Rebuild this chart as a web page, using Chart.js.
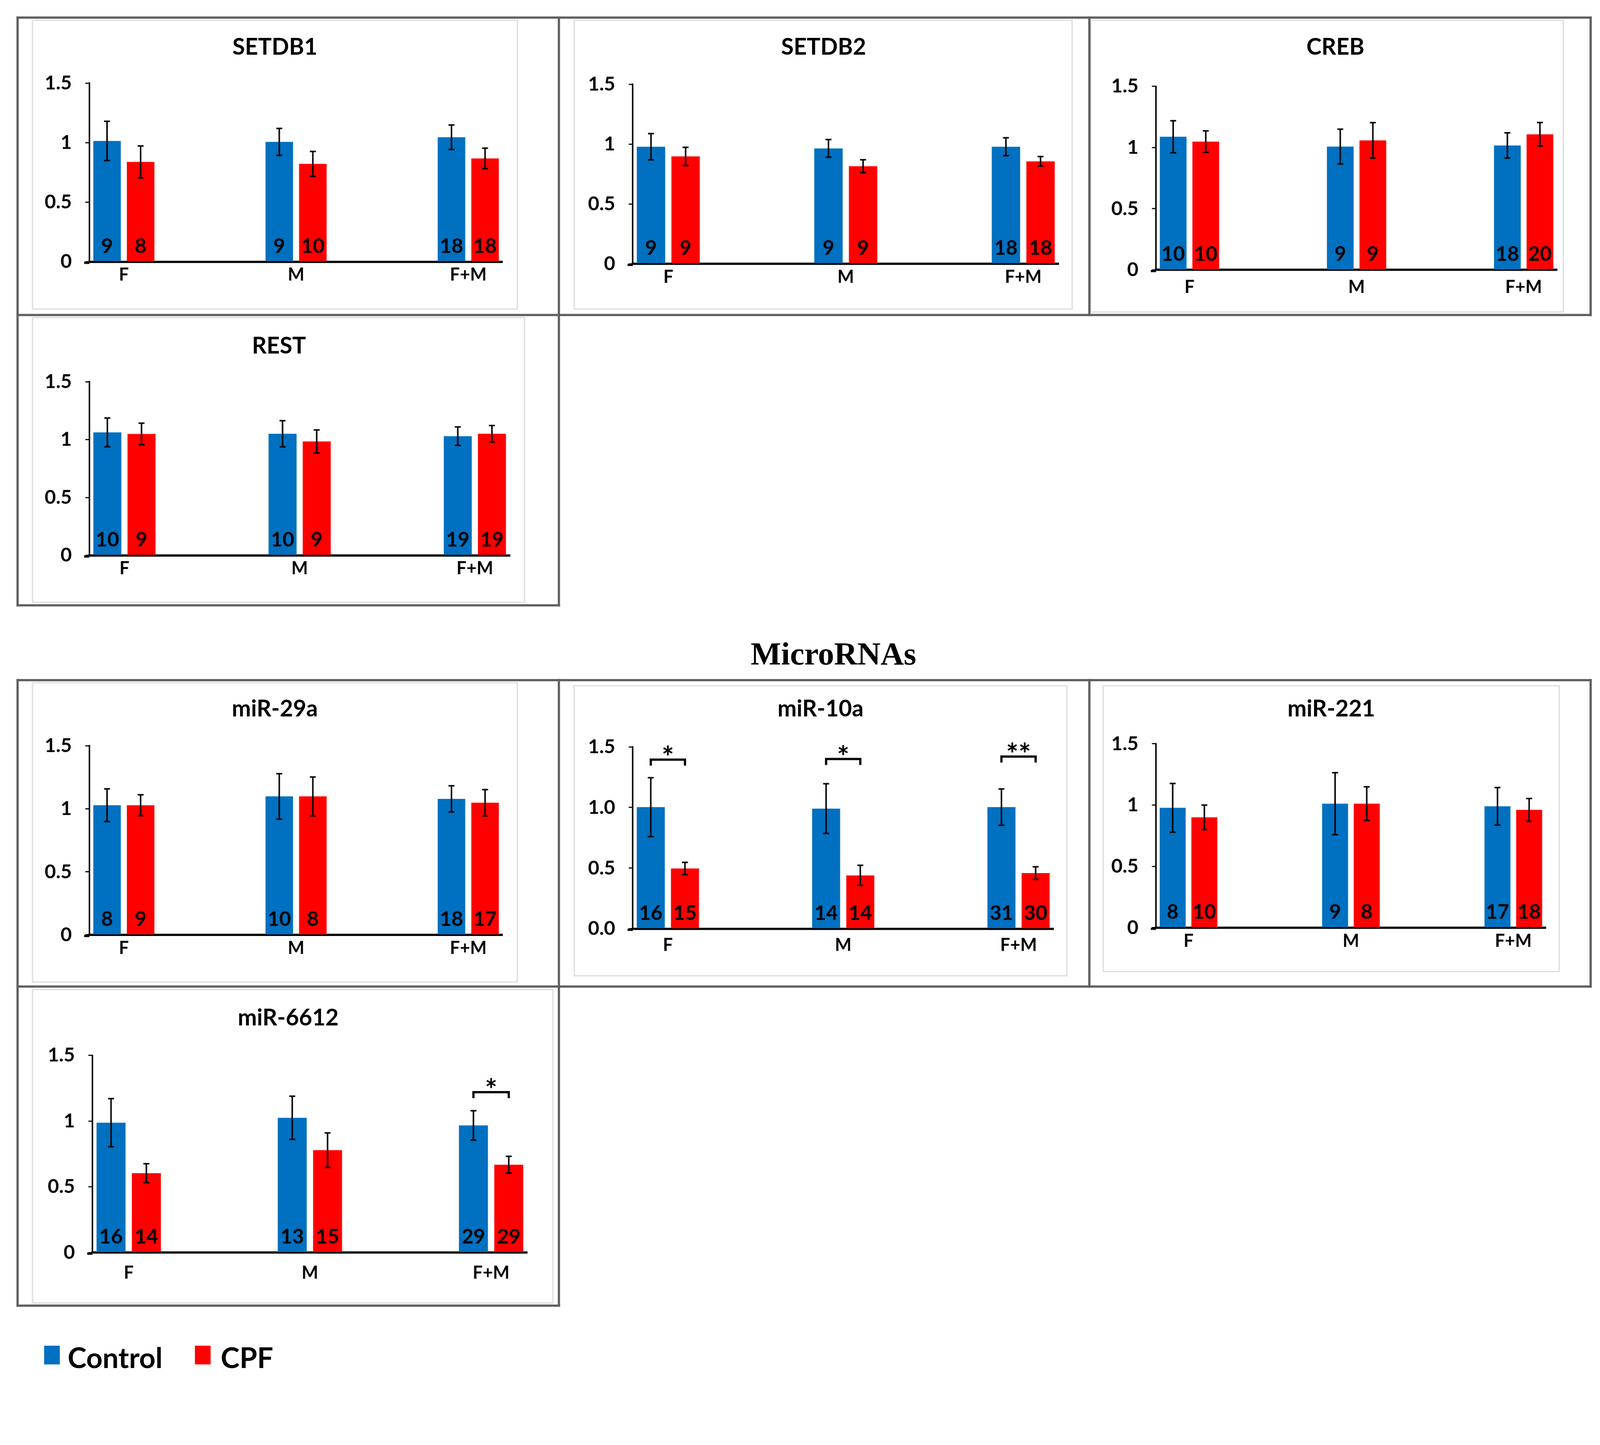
<!DOCTYPE html>
<html>
<head>
<meta charset="utf-8">
<script src="https://cdn.jsdelivr.net/npm/chart.js@4.4.1/dist/chart.umd.min.js"></script>
<style>
  html, body { margin: 0; padding: 0; background: #fff; overflow: hidden; }
  #page { position: absolute; left: 0; top: 0; width: 4277px; height: 3699px; overflow: hidden; transform-origin: 0 0; font-family: Lato, "Open Sans", sans-serif; }
  .rule { position: absolute; background: #606060; }
  .inner { position: absolute; box-sizing: border-box; border: 4px solid #e2e2e2; }
  .cell { position: absolute; }
  .ptitle { position: absolute; transform: translate(-50%, -50%); font-weight: 700; font-size: 61px; line-height: 1; white-space: nowrap; color: #000; }
  #sectionTitle { position: absolute; left: 2228px; top: 1790px; transform: translate(-50%, -100%); font-family: "Liberation Serif", serif; font-weight: 700; font-size: 86px; line-height: 1; color: #000; }
  .lg-box { position: absolute; width: 42px; height: 50px; }
  .lg-text { position: absolute; font-weight: 700; font-size: 76px; line-height: 1; color: #000; }
</style>
</head>
<body>
<div id="page">
  <div id="sectionTitle">MicroRNAs</div>
  <div class="lg-box" style="left:118px;top:3597px;background:#0070C0"></div>
  <div class="lg-text" style="left:181px;top:3590px">Control</div>
  <div class="lg-box" style="left:521px;top:3597px;background:#FF0000"></div>
  <div class="lg-text" style="left:590px;top:3590px">CPF</div>
</div>
<script>
(function(){
  // ---- data ----
  const categories = ["F", "M", "F+M"];
  const seriesNames = ["Control", "CPF"];
  const panelTitles = ["SETDB1", "SETDB2", "CREB", "REST", "miR-29a", "miR-10a", "miR-221", "miR-6612"];
  const controlMeans = [
    [1.015, 1.007, 1.046], [0.978, 0.964, 0.978], [1.088, 1.008, 1.017], [1.063, 1.051, 1.030],
    [1.029, 1.099, 1.079], [1.003, 0.991, 1.003], [0.978, 1.012, 0.990], [0.988, 1.025, 0.967]
  ];
  const cpfMeans = [
    [0.839, 0.822, 0.868], [0.897, 0.815, 0.856], [1.048, 1.058, 1.108], [1.049, 0.984, 1.051],
    [1.029, 1.099, 1.049], [0.497, 0.440, 0.459], [0.900, 1.012, 0.961], [0.604, 0.779, 0.668]
  ];
  const controlErr = [
    [0.165, 0.113, 0.103], [0.110, 0.074, 0.075], [0.131, 0.142, 0.103], [0.124, 0.113, 0.080],
    [0.130, 0.180, 0.104], [0.243, 0.205, 0.150], [0.199, 0.253, 0.153], [0.183, 0.164, 0.112]
  ];
  const cpfErr = [
    [0.134, 0.105, 0.086], [0.076, 0.054, 0.040], [0.088, 0.145, 0.096], [0.093, 0.100, 0.071],
    [0.083, 0.154, 0.104], [0.050, 0.083, 0.052], [0.100, 0.137, 0.093], [0.072, 0.131, 0.064]
  ];
  const controlN = [[9, 9, 18], [9, 9, 18], [10, 9, 18], [10, 10, 19], [8, 10, 18], [16, 14, 31], [8, 9, 17], [16, 13, 29]];
  const cpfN = [[8, 10, 18], [9, 9, 18], [10, 9, 20], [9, 9, 19], [9, 8, 17], [15, 14, 30], [10, 8, 18], [14, 15, 29]];
  const yTickValues = [0, 0.5, 1, 1.5];
  const yTickDecimals = [0, 0, 0, 0, 0, 1, 0, 0];
  // significance: [category index, bracket height, stars]
  const sigMarks = [[], [], [], [], [], [[0, 1.395, "*"], [1, 1.40, "*"], [2, 1.42, "**"]], [], [[2, 1.22, "*"]]];

  // ---- layout (measured on a 1560px wide copy, scaled up) ----
  const S = 4277 / 1560;
  const panelLayout = [
    { cell: [17, 17, 545, 307],   inner: [31, 19, 505, 302],    title: [268, 45],  axisX: 87,   yTop: 81,   yZero: 255,  xEnd: 490,  labelY: 268 },
    { cell: [545, 17, 1062, 307], inner: [559, 19, 1046, 302],  title: [803, 45],  axisX: 617,  yTop: 82,   yZero: 257,  xEnd: 1032, labelY: 270 },
    { cell: [1062, 17, 1551, 307],inner: [1063, 19, 1525, 305], title: [1302, 45], axisX: 1127, yTop: 84,   yZero: 263,  xEnd: 1518, labelY: 280 },
    { cell: [17, 307, 545, 590],  inner: [31, 309, 512, 588],   title: [272, 336], axisX: 87,   yTop: 372,  yZero: 541,  xEnd: 497,  labelY: 554 },
    { cell: [17, 663, 545, 962],  inner: [31, 665, 505, 958],   title: [268, 690], axisX: 87,   yTop: 727,  yZero: 911,  xEnd: 490,  labelY: 924 },
    { cell: [545, 663, 1062, 962],inner: [559, 668, 1041, 952], title: [800, 690], axisX: 617,  yTop: 728,  yZero: 905,  xEnd: 1027, labelY: 921 },
    { cell: [1062, 663, 1551, 962],inner:[1075, 668, 1521, 948],title: [1298, 690],axisX: 1127, yTop: 725,  yZero: 904,  xEnd: 1507, labelY: 917 },
    { cell: [17, 962, 545, 1273], inner: [31, 964, 540, 1271],  title: [281, 991], axisX: 90,   yTop: 1029, yZero: 1221, xEnd: 514,  labelY: 1241 }
  ];
  const hRules = [[17, 1551, 17], [17, 1551, 307], [17, 545, 590], [17, 1551, 663], [17, 1551, 962], [17, 545, 1273]];
  const vRules = [[17, 17, 590], [545, 17, 590], [1062, 17, 307], [1551, 17, 307], [17, 663, 1273], [545, 663, 1273], [1062, 663, 962], [1551, 663, 962]];

  const page = document.getElementById("page");
  // fit the 4277x3699 page into whatever viewport we get
  const fit = Math.min(window.innerWidth / 4277, window.innerHeight / 3699) || 1;
  page.style.transform = "scale(" + fit + ")";

  const RULE = 6;
  const FONT = "Lato, 'Open Sans', sans-serif";

  function addDiv(cls, style, text){
    const d = document.createElement("div");
    d.className = cls;
    Object.assign(d.style, style);
    if (text) d.textContent = text;
    page.appendChild(d);
    return d;
  }

  // inner (light) chart frames first, then the dark grid rules
  panelLayout.forEach(L => {
    addDiv("inner", {
      left: L.inner[0] * S + "px", top: L.inner[1] * S + "px",
      width: (L.inner[2] - L.inner[0]) * S + "px", height: (L.inner[3] - L.inner[1]) * S + "px"
    });
  });
  hRules.forEach(r => addDiv("rule", {
    left: r[0] * S - RULE / 2 + "px", top: r[2] * S - RULE / 2 + "px",
    width: (r[1] - r[0]) * S + RULE + "px", height: RULE + "px"
  }));
  vRules.forEach(r => addDiv("rule", {
    left: r[0] * S - RULE / 2 + "px", top: r[1] * S - RULE / 2 + "px",
    width: RULE + "px", height: (r[2] - r[1]) * S + RULE + "px"
  }));

  const extrasPlugin = {
    id: "extras",
    afterDatasetsDraw(chart, args, opts){
      const i = opts.panel;
      const ctx = chart.ctx;
      const yS = chart.scales.y;
      const area = chart.chartArea;
      const means = [controlMeans[i], cpfMeans[i]];
      const errs = [controlErr[i], cpfErr[i]];
      const ns = [controlN[i], cpfN[i]];
      const centers = [[], []];
      ctx.save();
      // category axis runs a little past the value axis on the left
      ctx.strokeStyle = "#000";
      ctx.lineWidth = 6;
      ctx.beginPath();
      ctx.moveTo(area.left - 14, area.bottom + 3);
      ctx.lineTo(area.left, area.bottom + 3);
      ctx.stroke();
      [0, 1].forEach(d => {
        const meta = chart.getDatasetMeta(d);
        meta.data.forEach((bar, k) => {
          centers[d][k] = bar.x;
          // sample size label at the foot of the bar
          ctx.fillStyle = "#000";
          ctx.font = "700 54px " + FONT;
          ctx.textAlign = "center";
          ctx.textBaseline = "alphabetic";
          ctx.fillText(String(ns[d][k]), bar.x, yS.getPixelForValue(0) - 24);
          // error bar
          const top = yS.getPixelForValue(means[d][k] + errs[d][k]);
          const bot = yS.getPixelForValue(means[d][k] - errs[d][k]);
          ctx.strokeStyle = "#000";
          ctx.lineWidth = 4;
          ctx.beginPath();
          ctx.moveTo(bar.x, top); ctx.lineTo(bar.x, bot);
          ctx.moveTo(bar.x - 8, top); ctx.lineTo(bar.x + 8, top);
          ctx.moveTo(bar.x - 8, bot); ctx.lineTo(bar.x + 8, bot);
          ctx.stroke();
        });
      });
      // significance brackets
      sigMarks[i].forEach(([k, h, stars]) => {
        const x0 = centers[0][k], x1 = centers[1][k];
        const y = yS.getPixelForValue(h);
        ctx.strokeStyle = "#000";
        ctx.lineWidth = 6;
        ctx.beginPath();
        ctx.moveTo(x0, y + 16); ctx.lineTo(x0, y); ctx.lineTo(x1, y); ctx.lineTo(x1, y + 16);
        ctx.stroke();
        ctx.fillStyle = "#000";
        ctx.font = "700 78px " + FONT;
        ctx.textAlign = "center";
        ctx.textBaseline = "alphabetic";
        ctx.fillText(stars, (x0 + x1) / 2, y + 22);
      });
      ctx.restore();
    }
  };

  const Y_W = 150, X_H = 110, X_FONT = 47;

  panelLayout.forEach((L, i) => {
    const cx0 = L.cell[0] * S, cy0 = L.cell[1] * S;
    const cw = (L.cell[2] - L.cell[0]) * S, ch = (L.cell[3] - L.cell[1]) * S;

    addDiv("ptitle", { left: L.title[0] * S + "px", top: L.title[1] * S + "px" }, panelTitles[i]);

    const box = addDiv("cell", { left: cx0 + "px", top: cy0 + "px", width: cw + "px", height: ch + "px" });
    const canvas = document.createElement("canvas");
    box.appendChild(canvas);

    const pad = {
      left: L.axisX * S - cx0 - Y_W,
      top: L.yTop * S - cy0,
      right: cx0 + cw - L.xEnd * S,
      bottom: cy0 + ch - L.yZero * S - X_H
    };
    const xLabelPad = (L.labelY - L.yZero) * S - X_FONT * 1.2 / 2;

    new Chart(canvas.getContext("2d"), {
      type: "bar",
      data: {
        datasets: [
          {
            label: seriesNames[0],
            data: controlMeans[i].map((v, k) => ({ x: k, y: v })),
            backgroundColor: "#0070C0",
            borderWidth: 0
          },
          {
            label: seriesNames[1],
            data: cpfMeans[i].map((v, k) => ({ x: k, y: v })),
            backgroundColor: "#FF0000",
            borderWidth: 0
          }
        ]
      },
      options: {
        responsive: true,
        maintainAspectRatio: false,
        animation: false,
        categoryPercentage: 0.39,
        barPercentage: 0.82,
        layout: { padding: pad },
        plugins: {
          legend: { display: false },
          tooltip: { enabled: false },
          extras: { panel: i }
        },
        scales: {
          x: {
            type: "linear",
            min: -0.2,
            max: 2.2,
            offset: false,
            afterBuildTicks: s => { s.ticks = categories.map((c, k) => ({ value: k })); },
            afterFit: s => { s.height = X_H; },
            grid: { display: false, drawTicks: false },
            border: { display: true, color: "#000", width: 6 },
            ticks: {
              padding: xLabelPad,
              color: "#000",
              font: { family: FONT, size: X_FONT, weight: "700", lineHeight: 1.2 },
              maxRotation: 0,
              autoSkip: false,
              callback: v => categories[v] !== undefined ? categories[v] : ""
            }
          },
          y: {
            min: 0,
            max: 1.5,
            afterBuildTicks: s => { s.ticks = yTickValues.map(v => ({ value: v })); },
            afterFit: s => { s.width = Y_W; },
            grid: { display: true, drawOnChartArea: false, drawTicks: true, tickLength: 11, color: "#000", lineWidth: 3 },
            border: { display: true, color: "#000", width: 4 },
            ticks: {
              padding: 36,
              color: "#000",
              font: { family: FONT, size: 52, weight: "700" },
              callback: v => Number(v).toFixed(yTickDecimals[i] ? 1 : (Number.isInteger(v) ? 0 : 1))
            }
          }
        }
      },
      plugins: [extrasPlugin]
    });
  });
})();
</script>
</body>
</html>
